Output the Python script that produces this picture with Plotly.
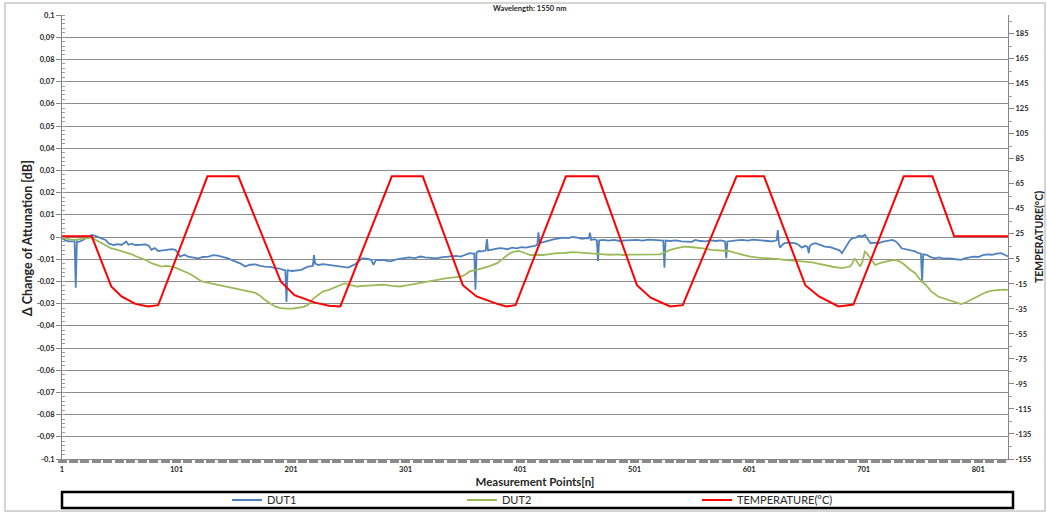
import plotly.graph_objects as go

# ---------------- data ----------------
dut1_n = [1, 4, 7, 11, 12, 13, 14, 16, 19, 22.5, 27, 30, 33, 36, 39, 42, 46, 50, 53, 57, 59, 62, 65, 70, 74, 77, 79, 82, 85, 89,
          94, 97, 100, 102, 104, 108, 111, 115, 120, 124, 129, 133, 137, 141, 146, 150, 154, 157, 161, 165, 170, 174, 178, 183,
          187, 191, 194, 196, 197, 198, 202, 206, 210, 213, 216, 220, 221, 222, 225, 229, 234, 238, 242, 247, 251, 254, 257,
          260, 263, 267, 271, 273, 275, 279, 282, 285, 288, 292, 296, 299, 304, 309, 314, 318, 323, 328, 332, 336, 340, 345,
          349, 353, 357, 360, 361, 362, 363, 365, 368, 371, 372, 373, 375, 379, 383, 386, 390, 394, 398, 402, 406, 410, 414,
          416, 417, 418, 422, 427, 431, 435, 439, 443, 447, 451, 455, 459, 461, 462, 463, 466, 468, 469, 470, 474, 478, 483,
          488, 493, 498, 503, 508, 513, 517, 522, 526, 527, 528, 532, 537, 542, 547, 551, 554, 558, 563, 567, 572, 576, 580,
          581, 582, 586, 590, 595, 600, 604, 609, 613, 617, 621, 625, 626, 627, 628, 630, 632, 636, 641, 644, 647, 650, 652,
          653, 654, 656, 659, 663, 667, 671, 676, 680, 682, 686, 689, 691, 694, 697, 700, 702, 704, 707, 711, 714, 717, 720,
          723, 726, 729, 732, 734, 738, 743, 746, 749, 751, 752, 753, 756, 759, 763, 767, 771, 774, 778, 782, 786, 790, 794,
          797, 801, 805, 809, 813, 817, 821, 824, 827]
dut1_v = [-0.0006, -0.0015, -0.002, -0.0018, -0.002, -0.0228, -0.002, -0.0022, -0.0015, -0.0003, 0.0009, 0.0005, 0.0, -0.0008,
          -0.0013, -0.003, -0.0036, -0.0032, -0.0036, -0.002, -0.0035, -0.003, -0.0036, -0.0035, -0.0033, -0.004, -0.0058,
          -0.005, -0.0063, -0.006, -0.0058, -0.0055, -0.0058, -0.007, -0.0088, -0.008, -0.0088, -0.0092, -0.0096, -0.009,
          -0.0088, -0.0082, -0.0084, -0.009, -0.0096, -0.0105, -0.0114, -0.012, -0.0133, -0.0125, -0.0123, -0.013, -0.0133,
          -0.0135, -0.014, -0.0142, -0.0148, -0.015, -0.0293, -0.015, -0.0153, -0.015, -0.0148, -0.014, -0.0133, -0.013,
          -0.0081, -0.012, -0.0126, -0.0122, -0.0126, -0.013, -0.0133, -0.0135, -0.0138, -0.013, -0.0123, -0.011, -0.0096,
          -0.0098, -0.0103, -0.0126, -0.0103, -0.0105, -0.0103, -0.0108, -0.011, -0.0102, -0.0098, -0.0096, -0.0092, -0.0095,
          -0.0088, -0.0092, -0.0094, -0.0096, -0.0092, -0.009, -0.0088, -0.0085, -0.0088, -0.008, -0.0073, -0.0075, -0.0075,
          -0.0238, -0.007, -0.0063, -0.0065, -0.006, -0.0009, -0.006, -0.0058, -0.0055, -0.005, -0.0051, -0.0055, -0.0048,
          -0.0051, -0.0046, -0.0048, -0.0043, -0.004, -0.0035, 0.0021, -0.0028, -0.0022, -0.0013, -0.001, -0.0006, -0.0003,
          -0.0005, 0.0, -0.0003, -0.0008, -0.0005, -0.0006, 0.002, -0.0013, -0.001, -0.0015, -0.0108, -0.0015, -0.0013,
          -0.0016, -0.0013, -0.0018, -0.0015, -0.0013, -0.0013, -0.0016, -0.0012, -0.0013, -0.0015, -0.0016, -0.0138,
          -0.0016, -0.0018, -0.0015, -0.002, -0.002, -0.0022, -0.0013, -0.0018, -0.002, -0.0015, -0.0018, -0.0015, -0.002,
          -0.0096, -0.002, -0.0016, -0.0015, -0.0013, -0.0016, -0.0012, -0.0013, -0.0015, -0.0018, -0.002, -0.0015, 0.0031,
          -0.003, -0.0048, -0.0035, -0.0028, -0.0025, -0.0028, -0.0035, -0.0048, -0.004, -0.0045, -0.0073, -0.004, -0.0032,
          -0.0028, -0.0035, -0.0043, -0.0045, -0.0054, -0.006, -0.0073, -0.004, -0.0015, -0.0006, -0.0003, 0.0006, 0.0003,
          0.001, -0.0005, -0.0028, -0.0025, -0.0028, -0.0022, -0.0018, -0.0015, -0.0013, -0.002, -0.0035, -0.0051, -0.0055,
          -0.0063, -0.0065, -0.0073, -0.0075, -0.0205, -0.0078, -0.008, -0.009, -0.0096, -0.0092, -0.0098, -0.0096, -0.0098,
          -0.01, -0.0103, -0.0095, -0.009, -0.0088, -0.009, -0.0082, -0.0078, -0.008, -0.0075, -0.0073, -0.008, -0.0088]

dut2_n = [1, 5, 9, 12, 16, 20, 24, 27, 31, 36, 40, 44, 48, 53, 57, 62, 66, 71, 75, 79, 83, 88, 92, 97, 101, 105, 110, 114,
          118, 123, 128, 134, 140, 146, 152, 158, 164, 170, 174, 178, 183, 187, 192, 198, 203, 207, 212, 216, 220, 225, 229,
          234, 238, 242, 245, 248, 251, 255, 259, 264, 271, 276, 282, 289, 296, 302, 308, 315, 322, 330, 337, 343, 349, 353,
          357, 363, 369, 375, 381, 386, 392, 396, 400, 405, 410, 416, 421, 427, 433, 440, 446, 451, 456, 462, 468, 474, 480,
          486, 491, 497, 503, 509, 515, 523, 528, 532, 538, 544, 550, 557, 562, 568, 575, 583, 589, 595, 602, 609, 615, 621,
          627, 632, 638, 644, 650, 656, 661, 667, 674, 682, 686, 689, 691, 693, 695, 698, 700, 702, 704, 707, 711, 715, 720,
          725, 729, 733, 737, 741, 746, 750, 755, 760, 766, 772, 778, 782, 786, 790, 794, 798, 803, 808, 813, 818, 823, 827]
dut2_v = [-0.0003, -0.0008, -0.0012, -0.0013, -0.001, -0.0008, -0.0006, -0.0003, -0.0015, -0.0028, -0.004, -0.0051, -0.0056,
          -0.0063, -0.007, -0.0078, -0.0088, -0.0096, -0.0105, -0.0118, -0.0125, -0.0133, -0.013, -0.0133, -0.014, -0.0148,
          -0.016, -0.017, -0.0185, -0.02, -0.0205, -0.0212, -0.022, -0.0227, -0.0232, -0.0238, -0.0245, -0.0252, -0.0265,
          -0.0283, -0.03, -0.0313, -0.032, -0.0323, -0.0322, -0.032, -0.0315, -0.0305, -0.028, -0.026, -0.0245, -0.0238,
          -0.023, -0.0223, -0.0215, -0.0208, -0.0215, -0.022, -0.0223, -0.022, -0.0218, -0.0216, -0.0215, -0.022, -0.0223,
          -0.0218, -0.0212, -0.0206, -0.02, -0.0192, -0.0185, -0.0182, -0.0178, -0.017, -0.0155, -0.0148, -0.014, -0.013,
          -0.0118, -0.0098, -0.0073, -0.0066, -0.0063, -0.0072, -0.0081, -0.008, -0.0081, -0.0077, -0.0073, -0.0072, -0.0068,
          -0.0069, -0.0072, -0.0073, -0.0076, -0.0078, -0.008, -0.0078, -0.0081, -0.0079, -0.0078, -0.0078, -0.0076, -0.0078,
          -0.0068, -0.0058, -0.005, -0.0043, -0.0045, -0.0048, -0.0052, -0.0058, -0.006, -0.0063, -0.0072, -0.0081, -0.0088,
          -0.0093, -0.0095, -0.0096, -0.01, -0.0103, -0.0106, -0.011, -0.0112, -0.0114, -0.012, -0.0128, -0.0134, -0.014,
          -0.0137, -0.0133, -0.012, -0.0096, -0.011, -0.0133, -0.011, -0.0066, -0.0075, -0.0096, -0.0126, -0.0118, -0.011,
          -0.0105, -0.0103, -0.0112, -0.0126, -0.0145, -0.0163, -0.019, -0.0215, -0.0245, -0.0268, -0.0278, -0.0287, -0.0295,
          -0.0302, -0.0295, -0.0285, -0.0275, -0.026, -0.0248, -0.0242, -0.0238, -0.0237, -0.0238]

temp_n = [1, 27, 44, 53, 65, 76, 85, 128, 155, 192, 204, 222, 234, 244, 289, 316, 351, 363, 381, 389, 397, 441, 469, 503,
          515, 532, 543, 590, 614, 650, 662, 679, 692, 736, 761, 780, 827]
temp_v = [23, 23, -17, -25, -31, -33, -32, 71, 71, -13, -24, -30, -32.5, -33, 71, 71, -16, -25, -31, -33, -32, 71, 71, -16,
          -26, -33, -32, 71, 71, -16, -25, -33, -31.5, 71, 71, 23, 23]

left_tick_vals = [0.1, 0.09, 0.08, 0.07, 0.06, 0.05, 0.04, 0.03, 0.02, 0.01, 0.0,
                  -0.01, -0.02, -0.03, -0.04, -0.05, -0.06, -0.07, -0.08, -0.09, -0.1]
left_tick_text = ["0,1", "0,09", "0,08", "0,07", "0,06", "0,05", "0,04", "0,03", "0,02", "0,01", "0",
                  "-0,01", "-0,02", "-0,03", "-0,04", "-0,05", "-0,06", "-0,07", "-0,08", "-0,09", "-0,1"]
right_tick_vals = [185, 165, 145, 125, 105, 85, 65, 45, 25, 5, -15, -35, -55, -75, -95, -115, -135, -155]
x_tick_vals = [1, 101, 201, 301, 401, 501, 601, 701, 801]

# ---------------- geometry helpers (pixels -> paper) ----------------
W, H = 1047, 513
L, R, T, B = 62, 1008, 15, 459
def px(x):
    return (x - L) / (R - L)
def py(y):
    return (B - y) / (B - T)

FONT = "Lato, 'Open Sans', 'DejaVu Sans', sans-serif"
GRAY = "#868686"

fig = go.Figure()
fig.add_trace(go.Scatter(x=dut1_n, y=dut1_v, mode="lines", name="DUT1",
                         line=dict(color="#4f81bd", width=1.8)))
fig.add_trace(go.Scatter(x=dut2_n, y=dut2_v, mode="lines", name="DUT2",
                         line=dict(color="#9bbb59", width=1.8)))
fig.add_trace(go.Scatter(x=temp_n, y=temp_v, mode="lines", name="TEMPERATURE(°C)",
                         line=dict(color="#ff0000", width=2), yaxis="y2"))

tick_font = dict(family=FONT, size=7.5, color="#262626", weight="bold")

fig.update_layout(
    width=W, height=H,
    margin=dict(l=L, r=W - R, t=T, b=H - B, autoexpand=False),
    paper_bgcolor="white", plot_bgcolor="white",
    showlegend=True,
    legend=dict(orientation="h", x=px(227), y=py(500), xanchor="left", yanchor="middle",
                entrywidth=190, entrywidthmode="pixels",
                font=dict(family=FONT, size=11, color="#262626"),
                bgcolor="rgba(0,0,0,0)", borderwidth=0, tracegroupgap=0),
    xaxis=dict(range=[1, 827], tickvals=x_tick_vals, ticktext=[str(v) for v in x_tick_vals],
               showgrid=False, zeroline=False, showline=True, linecolor=GRAY, linewidth=1,
               ticks="outside", ticklen=3, tickwidth=1, tickcolor=GRAY,
               minor=dict(dtick=10, tick0=1, ticks="outside", ticklen=3, tickwidth=9, tickcolor="#8c8c8c"),
               tickfont=tick_font, automargin=False,
               title=dict(text="Measurement Points[n]", standoff=4,
                          font=dict(family=FONT, size=11.5, color="#262626", weight="bold"))),
    yaxis=dict(range=[-0.1, 0.1], tickvals=left_tick_vals, ticktext=left_tick_text,
               showgrid=True, gridcolor="#8c8c8c", gridwidth=1, zeroline=False,
               showline=True, linecolor=GRAY, linewidth=1, automargin=False,
               ticks="outside", ticklen=5, tickcolor=GRAY,
               minor=dict(dtick=0.002, ticks="inside", ticklen=3, tickcolor="#a0a0a0", showgrid=False),
               tickfont=tick_font),
    yaxis2=dict(range=[-155, 200], overlaying="y", side="right", tickvals=right_tick_vals,
                ticktext=[str(v) for v in right_tick_vals], showgrid=False, zeroline=False,
                showline=True, linecolor=GRAY, linewidth=1, automargin=False,
                ticks="outside", ticklen=5, tickcolor=GRAY,
                minor=dict(dtick=10, tick0=-155, ticks="outside", ticklen=3, tickcolor="#a0a0a0"),
                tickfont=tick_font),
    annotations=[
        dict(text="Wavelength: 1550 nm", x=px(530), y=py(8), xref="paper", yref="paper",
             xanchor="center", yanchor="middle", showarrow=False,
             font=dict(family=FONT, size=7.5, color="#262626", weight="bold")),
        dict(text="Δ Change of Attunation [dB]", x=px(27), y=py(238), xref="paper", yref="paper",
             xanchor="center", yanchor="middle", textangle=-90, showarrow=False,
             font=dict(family=FONT, size=12.5, color="#262626", weight="bold")),
        dict(text="TEMPERATURE(°C)", x=px(1039), y=py(237), xref="paper", yref="paper",
             xanchor="center", yanchor="middle", textangle=-90, showarrow=False,
             font=dict(family=FONT, size=10.5, color="#262626", weight="bold")),
    ],
    shapes=[
        dict(type="rect", xref="paper", yref="paper", x0=px(62), x1=px(1013), y0=py(492), y1=py(508),
             line=dict(color="black", width=2.5), fillcolor="rgba(0,0,0,0)", layer="below"),
        dict(type="rect", xref="paper", yref="paper", x0=px(5), x1=px(1045), y0=py(3), y1=py(511),
             line=dict(color="#c8c8c8", width=1.5), fillcolor="rgba(0,0,0,0)", layer="below"),
    ],
)

fig.write_html("out.html", config={"displayModeBar": False},
               post_script="document.body.style.margin='0';")
